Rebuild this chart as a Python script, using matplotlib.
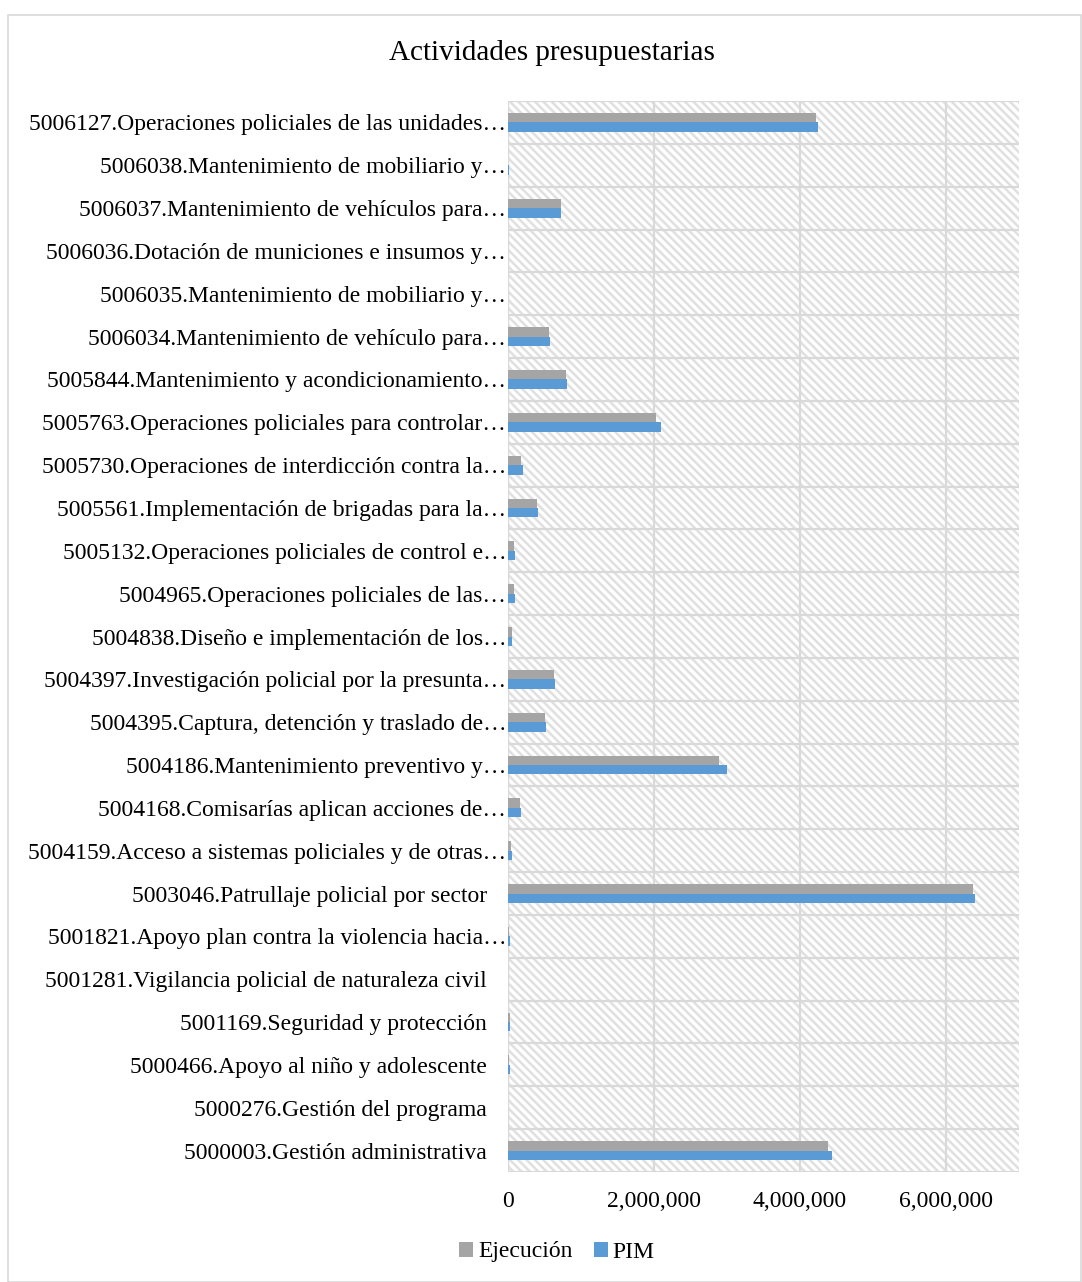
import numpy as np
import matplotlib.pyplot as plt
from matplotlib.patches import Rectangle
from matplotlib.ticker import FuncFormatter
from matplotlib.transforms import ScaledTranslation

plt.rcParams['font.family'] = ['Liberation Serif', 'DejaVu Serif']
plt.rcParams['hatch.linewidth'] = 1.8

# categories listed bottom -> top (Excel order)
categories = [
    "5000003.Gestión administrativa",
    "5000276.Gestión del programa",
    "5000466.Apoyo al niño y adolescente",
    "5001169.Seguridad y protección",
    "5001281.Vigilancia policial de naturaleza civil",
    "5001821.Apoyo plan contra la violencia hacia…",
    "5003046.Patrullaje policial por sector",
    "5004159.Acceso a sistemas policiales y de otras…",
    "5004168.Comisarías aplican acciones de…",
    "5004186.Mantenimiento preventivo y…",
    "5004395.Captura, detención y traslado de…",
    "5004397.Investigación policial por la presunta…",
    "5004838.Diseño e implementación de los…",
    "5004965.Operaciones policiales de las…",
    "5005132.Operaciones policiales de control e…",
    "5005561.Implementación de brigadas para la…",
    "5005730.Operaciones de interdicción contra la…",
    "5005763.Operaciones policiales para controlar…",
    "5005844.Mantenimiento y acondicionamiento…",
    "5006034.Mantenimiento de vehículo para…",
    "5006035.Mantenimiento de mobiliario y…",
    "5006036.Dotación de municiones e insumos y…",
    "5006037.Mantenimiento de vehículos para…",
    "5006038.Mantenimiento de mobiliario y…",
    "5006127.Operaciones policiales de las unidades…",
]

ejecucion = [4380000, 0, 20000, 23000, 0, 18000, 6370000, 45000, 165000, 2890000,
             507000, 630000, 55000, 82000, 82000, 400000, 178000, 2030000, 795000,
             562000, 0, 0, 722000, 0, 4220000]
pim = [4440000, 0, 25000, 32000, 0, 27000, 6400000, 50000, 178000, 3000000,
       520000, 645000, 58000, 90000, 96000, 410000, 205000, 2100000, 808000,
       575000, 0, 0, 730000, 10000, 4240000]

xticks = [0, 2000000, 4000000, 6000000]

fig = plt.figure(figsize=(10.82, 12.82), dpi=100)
ax = fig.add_axes([508 / 1082, 1 - 1172 / 1282, (1019 - 508) / 1082, (1172 - 101) / 1282])

# chart border
fig.patches.append(Rectangle((8 / 1082, 0.5 / 1282), (1081 - 8) / 1082, (1282 - 15) / 1282,
                             transform=fig.transFigure, fill=False,
                             edgecolor='#d9d9d9', linewidth=1.2))

y = np.arange(len(categories))
h = 0.22
ax.barh(y + h / 2, ejecucion, height=h, color='#a5a5a5', label='Ejecución', zorder=3)
ax.barh(y - h / 2, pim, height=h, color='#5b9bd5', label='PIM', zorder=3)

# hatched plot area
ax.add_patch(Rectangle((0, 0), 1, 1, transform=ax.transAxes, facecolor='white',
                       edgecolor='#e0e0e0', hatch='\\\\\\\\', linewidth=0, zorder=0))

ax.set_xlim(0, 7000000)
ax.set_ylim(-0.5, len(categories) - 0.5)
ax.set_xticks(xticks)
ax.xaxis.set_major_formatter(FuncFormatter(lambda v, p: f"{int(v):,}"))
ax.set_yticks(y)
ax.set_yticklabels(categories)
ax.set_yticks(np.arange(len(categories) + 1) - 0.5, minor=True)

ax.grid(True, axis='x', color='#d9d9d9', linewidth=1.6, zorder=1)
ax.grid(True, axis='y', which='minor', color='#d9d9d9', linewidth=1.6, zorder=1)
ax.tick_params(axis='y', which='both', length=0, labelsize=17, pad=15)
ax.tick_params(axis='x', length=0, labelsize=17, pad=14)
for s in ax.spines.values():
    s.set_visible(False)
ax.axvline(0, color='#d9d9d9', linewidth=1.6, zorder=2)

# truncated labels overflow toward the axis, as in the source
for lab in ax.get_yticklabels():
    if lab.get_text().endswith('…'):
        lab.set_transform(lab.get_transform() + ScaledTranslation(0.19, 0, fig.dpi_scale_trans))

fig.text(552 / 1082, 1 - 53 / 1282, "Actividades presupuestarias", ha='center', va='center', fontsize=21)

ax.legend(loc='center', bbox_to_anchor=(557 / 1082, 1 - 1252 / 1282),
          bbox_transform=fig.transFigure, ncol=2, frameon=False, fontsize=17,
          handlelength=0.6, handleheight=0.6, handletextpad=0.2, columnspacing=0.9)

fig.savefig('out.png', dpi=100)
